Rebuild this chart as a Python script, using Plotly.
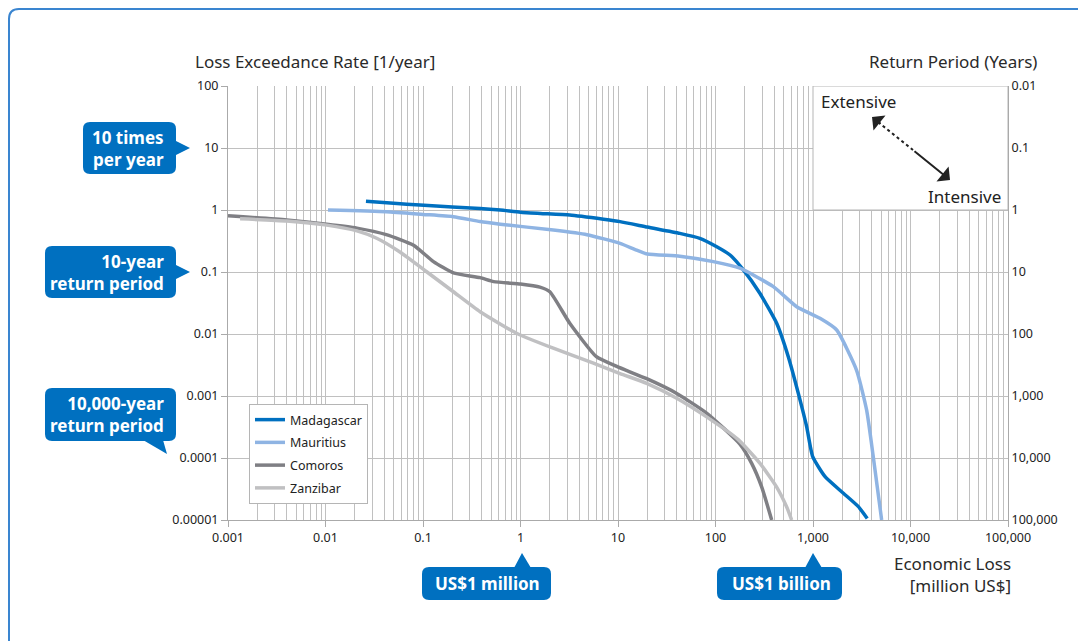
import plotly.graph_objects as go

# Loss exceedance curves (x: economic loss in million US$, y: exceedance rate per year)
mad_x = [0.026, 0.05, 0.093, 0.2, 0.385, 0.62, 1.0, 1.6, 3.2, 7.1, 10.5, 20, 43, 69, 103, 141, 193,
         286, 424, 558, 707, 861, 993, 1330, 2050, 2920, 3600]
mad_y = [1.38, 1.28, 1.2, 1.12, 1.06, 1.0, 0.92, 0.88, 0.83, 0.71, 0.65, 0.53, 0.42, 0.35, 0.256, 0.188,
         0.108, 0.045, 0.0149, 0.0043, 0.0011, 0.00032, 0.000105, 0.00005, 0.000027, 0.0000164, 0.0000106]

mau_x = [0.0106, 0.042, 0.1, 0.205, 0.385, 0.62, 2.17, 4.8, 10.5, 15, 20, 43, 95, 178, 392, 680, 1180,
         1750, 2800, 3550, 4150, 5060]
mau_y = [1.0, 0.94, 0.85, 0.78, 0.65, 0.59, 0.475, 0.40, 0.29, 0.23, 0.195, 0.18, 0.147, 0.115, 0.058,
         0.0275, 0.0179, 0.0116, 0.0026, 0.00059, 0.000105, 0.00001]

com_x = [0.001, 0.004, 0.0103, 0.021, 0.042, 0.08, 0.128, 0.205, 0.385, 0.53, 1.0, 1.58, 2.0, 3.2, 6.0,
         9.7, 19.7, 40, 81, 178, 235, 298, 377]
com_y = [0.81, 0.69, 0.59, 0.51, 0.40, 0.27, 0.147, 0.097, 0.081, 0.070, 0.064, 0.057, 0.048, 0.0149,
         0.0043, 0.0030, 0.0019, 0.0011, 0.00053, 0.000168, 0.000082, 0.000034, 0.00001]

zan_x = [0.00133, 0.004, 0.0103, 0.021, 0.0335, 0.058, 0.109, 0.205, 0.385, 0.91, 2.17, 5.6, 10.5, 19.7,
         40, 81, 170, 286, 424, 536, 604]
zan_y = [0.72, 0.665, 0.57, 0.46, 0.35, 0.21, 0.101, 0.048, 0.0229, 0.0103, 0.0059, 0.0034, 0.0023,
         0.0016, 0.00092, 0.00046, 0.0002, 0.000082, 0.000034, 0.0000164, 0.00001]

x_ticks = [0.001, 0.01, 0.1, 1, 10, 100, 1000, 10000, 100000]
x_labels = ["0.001", "0.01", "0.1", "1", "10", "100", "1,000", "10,000", "100,000"]
rate_ticks = [0.00001, 0.0001, 0.001, 0.01, 0.1, 1, 10, 100]
rate_labels = ["0.00001", "0.0001", "0.001", "0.01", "0.1", "1", "10", "100"]
period_ticks = [0.01, 0.1, 1, 10, 100, 1000, 10000, 100000]
period_labels = ["0.01", "0.1", "1", "10", "100", "1,000", "10,000", "100,000"]

BLUE = "#0070C0"
GRID = "#c0c0c0"
FONT = "Noto Sans"

# plot area in screen pixels; the page body adds an 8px margin
PAGE = 8
L, R, T, B = 228, 1008, 86, 520
W, H = 1086 - PAGE, 641 - PAGE


def P(px, py):
    return f"{(px - L) / (R - L):.5f},{(B - py) / (B - T):.5f}"


def px_x(px):
    return (px - L) / (R - L)


def px_y(py):
    return (B - py) / (B - T)


def rounded_box(x0, y0, x1, y1, r):
    return ("M" + P(x0 + r, y0) + " L" + P(x1 - r, y0) + " Q" + P(x1, y0) + " " + P(x1, y0 + r) +
            " L" + P(x1, y1 - r) + " Q" + P(x1, y1) + " " + P(x1 - r, y1) +
            " L" + P(x0 + r, y1) + " Q" + P(x0, y1) + " " + P(x0, y1 - r) +
            " L" + P(x0, y0 + r) + " Q" + P(x0, y0) + " " + P(x0 + r, y0) + " Z")


def triangle(a, b, c):
    return "M" + P(*a) + " L" + P(*b) + " L" + P(*c) + " Z"


fig = go.Figure()

series = [
    ("Madagascar", mad_x, mad_y, BLUE),
    ("Mauritius", mau_x, mau_y, "#8fb4e3"),
    ("Comoros", com_x, com_y, "#7f7f84"),
    ("Zanzibar", zan_x, zan_y, "#c0c0c2"),
]
for name, xs, ys, col in series:
    fig.add_trace(go.Scatter(
        x=xs, y=ys, mode='lines', name=name, legendgroup=name,
        line=dict(color=col, width=3.5, shape='spline', smoothing=0.5),
    ))

# dummy trace so the right-hand axis is drawn
fig.add_trace(go.Scatter(x=[], y=[], yaxis='y2', showlegend=False, hoverinfo='skip'))

minor_vals = [m * 10 ** e for e in range(-3, 5) for m in range(2, 10)]

fig.update_layout(
    width=W, height=H,
    margin=dict(l=L - PAGE, r=1086 - R, t=T - PAGE, b=641 - B),
    paper_bgcolor='white', plot_bgcolor='white',
    font=dict(family=FONT, size=12, color='#222'),
    legend=dict(x=px_x(249), y=px_y(404), xanchor='left', yanchor='top',
                bgcolor='white', bordercolor='#b5b5b5', borderwidth=1,
                traceorder='grouped', tracegroupgap=3.5,
                font=dict(size=12.5, color='#222'), itemwidth=30),
    xaxis=dict(type='log', range=[-3, 5], tickmode='array', tickvals=x_ticks, ticktext=x_labels,
               showgrid=True, gridcolor=GRID, gridwidth=1, zeroline=False,
               minor=dict(tickmode='array', tickvals=minor_vals, showgrid=True, gridcolor=GRID, ticks=''),
               ticks='outside', ticklen=6, tickcolor='#aaa', showline=True, linecolor='#aaa',
               tickfont=dict(size=12.5, color='#222')),
    yaxis=dict(type='log', range=[-5, 2], tickmode='array', tickvals=rate_ticks, ticktext=rate_labels,
               showgrid=True, gridcolor=GRID, gridwidth=1, zeroline=False,
               ticks='outside', ticklen=6, tickcolor='#aaa', showline=True, linecolor='#aaa',
               tickfont=dict(size=12.5, color='#222')),
    yaxis2=dict(type='log', range=[5, -2], overlaying='y', side='right', anchor='x',
                tickmode='array', tickvals=period_ticks, ticktext=period_labels,
                showgrid=False, zeroline=False, ticks='',
                showline=True, linecolor='#aaa', tickfont=dict(size=12.5, color='#222')),
)

shapes = []
# white box in the upper right (no gridlines)
shapes.append(dict(type='rect', xref='x', yref='y', x0=1000, x1=100000, y0=1, y1=100,
                   fillcolor='white', line=dict(color='#b5b5b5', width=1), layer='above'))

# outer blue frame
frame = "M" + P(9, 700) + " L" + P(9, 19) + " Q" + P(9, 9) + " " + P(19, 9) + " L" + P(1150, 9)
shapes.append(dict(type='path', xref='paper', yref='paper', path=frame,
                   line=dict(color='#3a85d0', width=2)))

# callout boxes
boxes = [
    ((83, 122, 176, 174), ((176, 141), (190, 148), (176, 155))),
    ((45, 246, 176, 298), ((176, 265), (190, 272), (176, 279))),
    ((45, 388, 176, 441), ((143, 440), (167, 454), (163, 440))),
    ((422, 567, 551, 600), ((514, 568), (522, 553), (531, 568))),
    ((717, 567, 842, 600), ((805, 568), (813, 553), (822, 568))),
]
for (x0, y0, x1, y1), tri in boxes:
    shapes.append(dict(type='path', xref='paper', yref='paper', path=rounded_box(x0, y0, x1, y1, 7),
                       fillcolor=BLUE, line=dict(width=0)))
    shapes.append(dict(type='path', xref='paper', yref='paper', path=triangle(*tri),
                       fillcolor=BLUE, line=dict(width=0)))

# dotted part of the extensive/intensive arrow
shapes.append(dict(type='line', xref='paper', yref='paper',
                   x0=px_x(878), y0=px_y(122), x1=px_x(913), y1=px_y(150),
                   line=dict(color='#222', width=2, dash='dot')))
fig.update_layout(shapes=shapes)


def label(text, px, py, xanchor='center', align='center', size=17, color='#2a2a2a', bold=False):
    if bold:
        text = "<b>" + text.replace("<br>", "</b><br><b>") + "</b>"
    fig.add_annotation(text=text, xref='paper', yref='paper', x=px_x(px), y=px_y(py),
                       xanchor=xanchor, yanchor='middle', align=align, showarrow=False,
                       font=dict(family=FONT, size=size, color=color))


label("Loss Exceedance Rate [1/year]", 193, 61, xanchor='left')
label("Return Period (Years)", 1039, 61, xanchor='right')
label("Economic Loss<br>[million US$]", 1013, 574, xanchor='right', align='right')
label("Extensive", 858, 102, color='#222')
label("Intensive", 964, 196, color='#222')

label("10 times<br>per year", 166, 148, xanchor='right', align='right', size=17, color='white', bold=True)
label("10-year<br>return period", 166, 272, xanchor='right', align='right', size=17, color='white', bold=True)
label("10,000-year<br>return period", 166, 414, xanchor='right', align='right', size=17, color='white', bold=True)
label("US$1 million", 487, 583, size=17, color='white', bold=True)
label("US$1 billion", 781, 583, size=17, color='white', bold=True)

# arrow heads
fig.add_annotation(xref='paper', yref='paper', x=px_x(950), y=px_y(180), ax=913 - 950, ay=150 - 180,
                   showarrow=True, arrowhead=1, arrowsize=1.6, arrowwidth=2, arrowcolor='#222', text='')
fig.add_annotation(xref='paper', yref='paper', x=px_x(872), y=px_y(117), ax=10, ay=8,
                   showarrow=True, arrowhead=1, arrowsize=1.6, arrowwidth=2, arrowcolor='#222', text='')

fig.write_html("out.html")
